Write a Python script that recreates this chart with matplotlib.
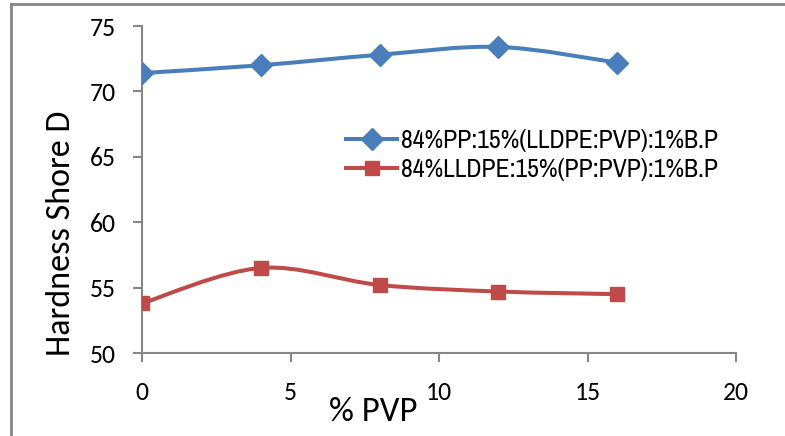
import numpy as np
import matplotlib
matplotlib.use("Agg")
import matplotlib.pyplot as plt
from matplotlib.lines import Line2D
from matplotlib.path import Path
from matplotlib.patches import PathPatch
from matplotlib import font_manager

# values
pvp = [0, 4, 8, 12, 16]
pp_blend = [71.4, 72.0, 72.8, 73.4, 72.2]
lldpe_blend = [53.8, 56.5, 55.2, 54.7, 54.5]
labels = ["84%PP:15%(LLDPE:PVP):1%B.P", "84%LLDPE:15%(PP:PVP):1%B.P"]
colors = ["#4A7EBB", "#BE4B48"]
markers = ["D", "s"]

installed = {f.name for f in font_manager.fontManager.ttflist}


def pick(*names):
    for n in names:
        if n in installed:
            return n
    return "Liberation Sans"


# Calibri look-alike for axes text, a narrow sans for the legend
BODY = pick("Carlito", "Calibri")
NARROW = pick("Liberation Sans Narrow", "Arial Narrow", "Archivo Narrow",
              "PT Sans Narrow", "Roboto Condensed", "Open Sans Condensed")
calibri = BODY != "Liberation Sans"
plt.rcParams["font.family"] = [BODY, "DejaVu Sans"]
GRAY = "#868686"


def smooth_path(x, y, t=1 / 6):
    # Excel-like smoothed line: cubic bezier through the points
    x = np.asarray(x, float); y = np.asarray(y, float)
    verts = [(x[0], y[0])]; codes = [Path.MOVETO]
    n = len(x)
    for i in range(n - 1):
        i0 = max(i - 1, 0); i3 = min(i + 2, n - 1)
        c1 = (x[i] + (x[i + 1] - x[i0]) * t, y[i] + (y[i + 1] - y[i0]) * t)
        c2 = (x[i + 1] - (x[i3] - x[i]) * t, y[i + 1] - (y[i3] - y[i]) * t)
        verts += [c1, c2, (x[i + 1], y[i + 1])]
        codes += [Path.CURVE4] * 3
    return Path(verts, codes)


W, H = 785, 436
fig = plt.figure(figsize=(W / 100, H / 100), dpi=100)
ax = fig.add_axes([142 / W, 1 - 353 / H, 594 / W, 327 / H])

ms = {"D": 11, "s": 9.5}
for ys, lab, c, m in zip([pp_blend, lldpe_blend], labels, colors, markers):
    ax.add_patch(PathPatch(smooth_path(pvp, ys), fc="none", ec=c, lw=2.9,
                           capstyle="round", zorder=2))
    ax.plot(pvp, ys, ls="none", marker=m, ms=ms[m], color=c, mec=c, zorder=3)

handles = [Line2D([], [], color=c, lw=2.9, marker=m, ms=ms[m])
           for c, m in zip(colors, markers)]
leg_size = 18.5 if NARROW != "Liberation Sans" else 15
fig.legend(handles, labels, loc="upper left", bbox_to_anchor=(346 / W, 1 - 129 / H),
           frameon=False, prop={"family": NARROW, "size": leg_size}, handlelength=2.0,
           handletextpad=0.15, labelspacing=0.25, borderpad=0, borderaxespad=0)

ax.set_xlim(0, 20)
ax.set_ylim(50, 75)
ax.set_xticks([0, 5, 10, 15, 20])
ax.set_yticks([50, 55, 60, 65, 70, 75])
for s in ["top", "right"]:
    ax.spines[s].set_visible(False)
for s in ["left", "bottom"]:
    ax.spines[s].set_color(GRAY)
    ax.spines[s].set_linewidth(1.5)
ax.tick_params(axis="both", colors=GRAY, width=1.5, length=6.5,
               labelsize=18.5 if calibri else 15, labelcolor="black")
ax.tick_params(axis="x", pad=14)
ax.tick_params(axis="y", pad=12)

# axis titles anchored on their baselines where the reference has them
fig.text(70 / W, 1 - 233 / H, "Hardness Shore D", rotation=90, rotation_mode="anchor",
         ha="center", va="baseline", fontsize=24.5 if calibri else 22)
fig.text(373 / W, 1 - 421 / H, "% PVP", ha="center", va="baseline",
         fontsize=25 if calibri else 21)

# outer chart frame (cropped at right and bottom)
fig.add_artist(Line2D([10.5 / W, 1], [1 - 4.5 / H] * 2, color=GRAY, lw=2))
fig.add_artist(Line2D([10.5 / W] * 2, [0, 1 - 4.5 / H], color=GRAY, lw=2))

fig.savefig("out.png", dpi=100)
